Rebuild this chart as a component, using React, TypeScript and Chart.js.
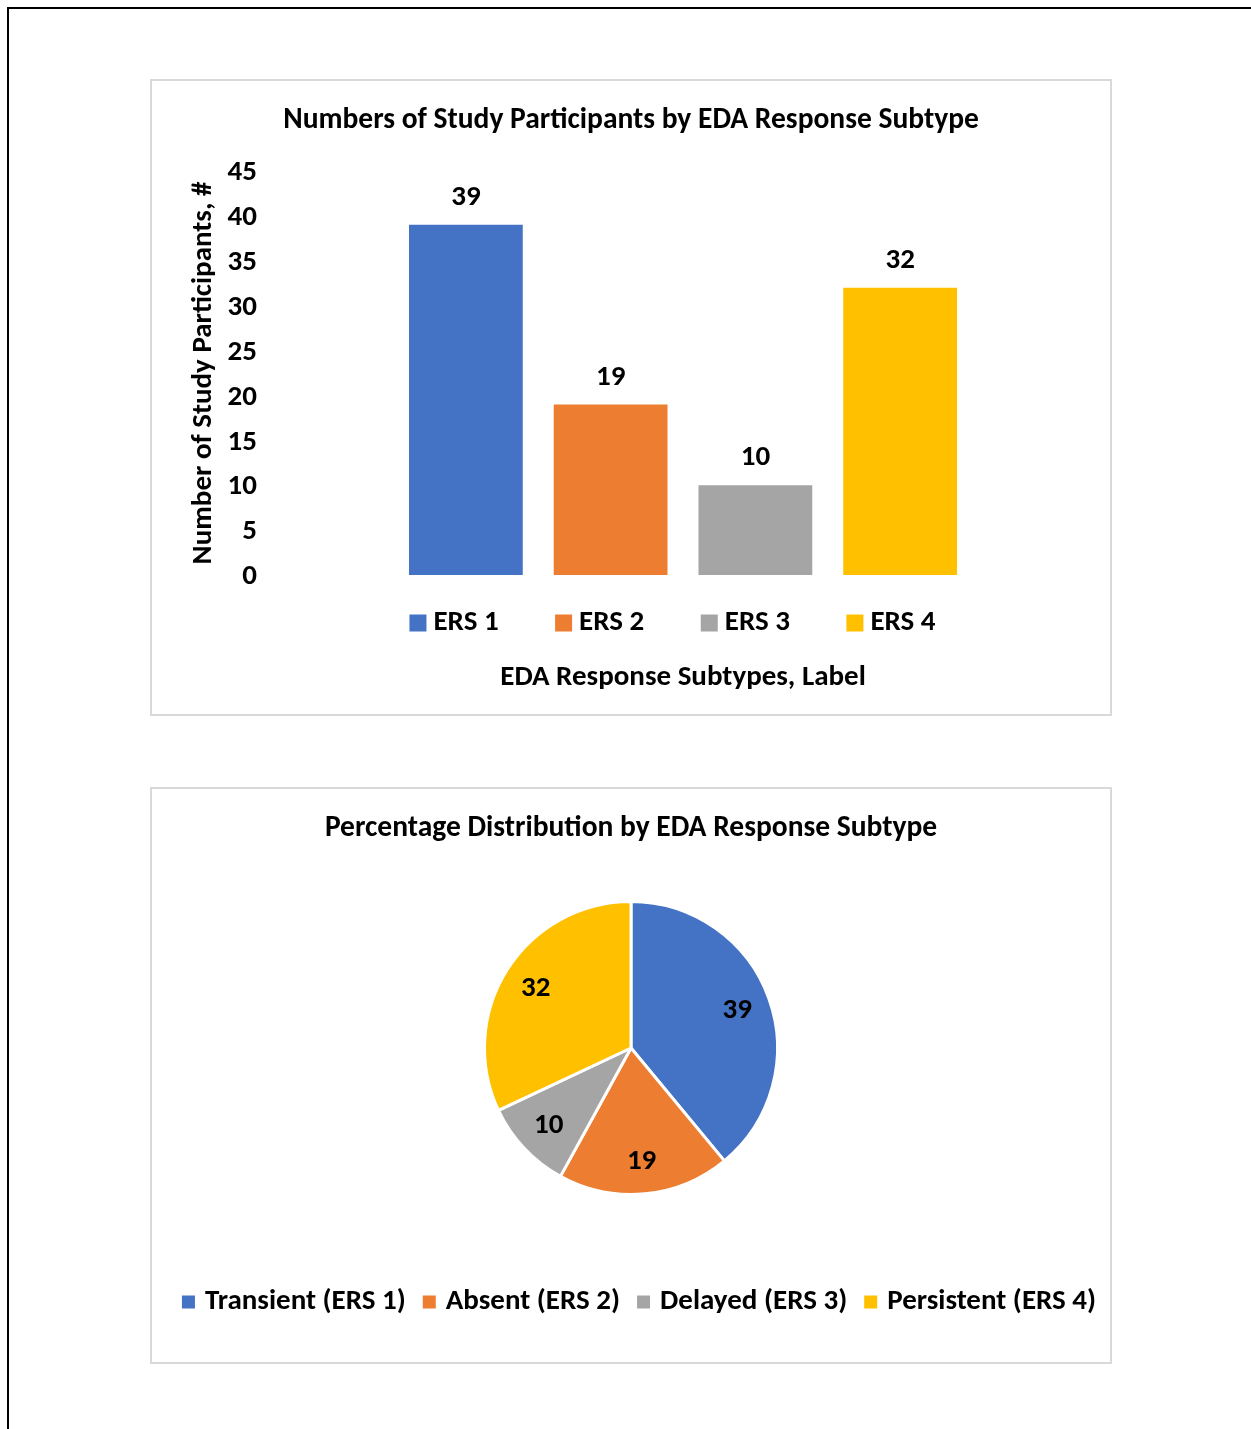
import React, { useEffect, useRef } from "react";
import { Chart, registerables } from "chart.js";

Chart.register(...registerables);

// ---------- data ----------
const categories = ["ERS 1", "ERS 2", "ERS 3", "ERS 4"];
const participantCounts = [39, 19, 10, 32];
const pieLabels = ["Transient (ERS 1)", "Absent (ERS 2)", "Delayed (ERS 3)", "Persistent (ERS 4)"];
const pieValues = [39, 19, 10, 32];
const seriesColors = ["#4472C4", "#ED7D31", "#A5A5A5", "#FFC000"];
const yAxisMin = 0;
const yAxisMax = 45;
const yAxisStep = 5;

const barTitle = "Numbers of Study Participants by EDA Response Subtype";
const barYTitle = "Number of Study Participants, #";
const barXTitle = "EDA Response Subtypes, Label";
const pieTitle = "Percentage Distribution by EDA Response Subtype";

const FONT = "Carlito, Calibri, Lato, sans-serif";
const FS = 29;
const TITLE_FS = 29.5;
Chart.defaults.font.family = FONT;
Chart.defaults.color = "#000";

// ---------- plugins ----------
const barValueLabels = {
  id: "barValueLabels",
  afterDatasetsDraw(chart: any, _args: any, opts: any) {
    const { ctx } = chart;
    chart.data.datasets.forEach((ds: any, di: number) => {
      const meta = chart.getDatasetMeta(di);
      meta.data.forEach((el: any, i: number) => {
        ctx.save();
        ctx.font = `bold ${opts.size}px ${FONT}`;
        ctx.fillStyle = "#000";
        ctx.textAlign = "center";
        ctx.textBaseline = "middle";
        ctx.fillText(String(ds.data[i]), el.x, el.y - opts.offset);
        ctx.restore();
      });
    });
  },
};

const pieValueLabels = {
  id: "pieValueLabels",
  afterDatasetsDraw(chart: any, _args: any, opts: any) {
    const { ctx } = chart;
    const ds = chart.data.datasets[0];
    const meta = chart.getDatasetMeta(0);
    meta.data.forEach((arc: any, i: number) => {
      const p = arc.getProps(["x", "y", "startAngle", "endAngle", "outerRadius"], true);
      const mid = (p.startAngle + p.endAngle) / 2;
      const r = p.outerRadius * opts.radiusFraction;
      ctx.save();
      ctx.font = `bold ${opts.size}px ${FONT}`;
      ctx.fillStyle = "#000";
      ctx.textAlign = "center";
      ctx.textBaseline = "middle";
      ctx.fillText(String(ds.data[i]), p.x + Math.cos(mid) * r, p.y + Math.sin(mid) * r + opts.dy);
      ctx.restore();
    });
  },
};

const rowLegend = {
  id: "rowLegend",
  afterDraw(chart: any, _args: any, opts: any) {
    const { ctx } = chart;
    const labels: string[] = chart.data.labels;
    const colors: string[] = chart.data.datasets[0].backgroundColor;
    ctx.save();
    ctx.font = `bold ${opts.size}px ${FONT}`;
    const widths = labels.map((t) => ctx.measureText(t).width);
    const itemW = widths.map((w) => opts.boxSize + opts.boxGap + w);
    const total = itemW.reduce((a, b) => a + b, 0) + opts.itemGap * (labels.length - 1);
    let x = opts.centerX - total / 2;
    const y = opts.y;
    labels.forEach((t, i) => {
      ctx.fillStyle = colors[i];
      ctx.fillRect(x, y - opts.boxSize / 2, opts.boxSize, opts.boxSize);
      ctx.fillStyle = "#000";
      ctx.textAlign = "left";
      ctx.textBaseline = "middle";
      ctx.fillText(t, x + opts.boxSize + opts.boxGap, y);
      x += itemW[i] + opts.itemGap;
    });
    ctx.restore();
  },
};

// ---------- configs ----------
function barConfig(): any {
  return {
    type: "bar",
    data: {
      labels: categories,
      datasets: [
        {
          data: participantCounts,
          backgroundColor: seriesColors,
          borderWidth: 0,
          categoryPercentage: 1,
          barPercentage: 0.786,
          yAxisID: "y",
        },
      ],
    },
    options: {
      responsive: false,
      animation: false,
      events: [],
      layout: { padding: { left: 0, right: 0, top: 0, bottom: 14.6 } },
      scales: {
        x: {
          ticks: { display: false },
          grid: { display: false, drawTicks: false },
          border: { display: false },
          title: {
            display: true,
            text: barXTitle,
            color: "#000",
            font: { size: FS, weight: "bold" },
            padding: { top: 85.6, bottom: 4 },
          },
        },
        y: {
          min: yAxisMin,
          max: yAxisMax,
          position: "left",
          ticks: {
            stepSize: yAxisStep,
            color: "#000",
            font: { size: FS, weight: "bold" },
            padding: 136.5,
            labelOffset: 2,
          },
          grid: { display: false, drawTicks: false },
          border: { display: false },
          title: {
            display: true,
            text: barYTitle,
            color: "#000",
            font: { size: FS, weight: "bold" },
            padding: { top: 34.6, bottom: 4 },
          },
          afterFit: (s: any) => {
            s.width = 241.5;
            s.paddingTop = 0;
            s.paddingBottom = 0;
          },
        },
        yRightSpace: {
          type: "linear",
          position: "right",
          display: true,
          ticks: { display: false },
          grid: { display: false, drawTicks: false },
          border: { display: false },
          afterFit: (s: any) => {
            s.width = 137.5;
            s.paddingTop = 0;
            s.paddingBottom = 0;
          },
        },
      },
      plugins: {
        legend: { display: false },
        tooltip: { enabled: false },
        title: {
          display: true,
          text: barTitle,
          color: "#000",
          font: { size: TITLE_FS, weight: "bold" },
          padding: { top: 22.3, bottom: 32.3 },
        },
        barValueLabels: { size: FS, offset: 27 },
        rowLegend: { size: FS, boxSize: 17, boxGap: 7, itemGap: 56.5, centerX: 520.5, y: 542 },
      },
    },
    plugins: [barValueLabels, rowLegend],
  };
}

function pieConfig(): any {
  return {
    type: "pie",
    data: {
      labels: pieLabels,
      datasets: [
        {
          data: pieValues,
          backgroundColor: seriesColors,
          borderColor: "#fff",
          borderWidth: 3,
          radius: 146.5,
        },
      ],
    },
    options: {
      responsive: false,
      animation: false,
      events: [],
      layout: { padding: { top: 0, bottom: 122.4, left: 0, right: 0 } },
      plugins: {
        legend: { display: false },
        tooltip: { enabled: false },
        title: {
          display: true,
          text: pieTitle,
          color: "#000",
          font: { size: TITLE_FS, weight: "bold" },
          padding: { top: 22.3, bottom: 9.7 },
        },
        pieValueLabels: { size: FS, radiusFraction: 0.77, dy: 1 },
        rowLegend: { size: FS, boxSize: 13, boxGap: 10, itemGap: 17, centerX: 487, y: 513 },
      },
    },
    plugins: [pieValueLabels, rowLegend],
  };
}

function ChartBox(props: { left: number; top: number; width: number; height: number; make: () => any }) {
  const ref = useRef<HTMLCanvasElement | null>(null);
  const { left, top, width, height, make } = props;
  useEffect(() => {
    if (!ref.current) return;
    const chart = new Chart(ref.current, make());
    return () => chart.destroy();
  }, []);
  return (
    <div
      style={{
        position: "absolute",
        left,
        top,
        width,
        height,
        border: "2px solid #d9d9d9",
        boxSizing: "border-box",
        background: "#fff",
      }}
    >
      <canvas ref={ref} width={width - 4} height={height - 4} style={{ display: "block" }} />
    </div>
  );
}

export default function App() {
  useEffect(() => {
    document.body.style.overflow = "hidden";
  }, []);
  return (
    <>
      <div
        style={{
          position: "absolute",
          left: 7,
          top: 7,
          width: 1244,
          height: 1422,
          borderTop: "2px solid #000",
          borderLeft: "2px solid #000",
          boxSizing: "border-box",
        }}
      />
      <ChartBox left={150} top={79} width={962} height={637} make={barConfig} />
      <ChartBox left={150} top={787} width={962} height={577} make={pieConfig} />
    </>
  );
}
